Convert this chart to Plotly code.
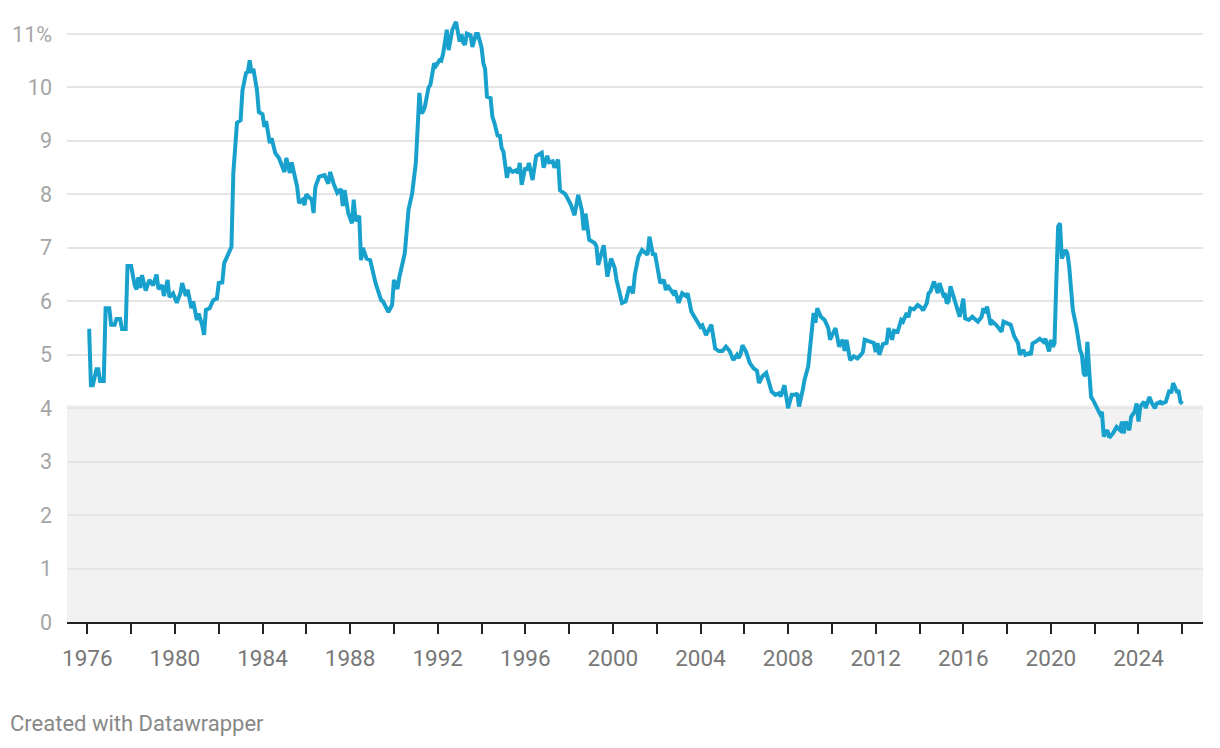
import plotly.graph_objects as go

# Monthly readings (date, percent)
dates = [
    "1976-01", "1976-02", "1976-03", "1976-04", "1976-06", "1976-07", "1976-08", "1976-10",
    "1976-11", "1977-01", "1977-02", "1977-04", "1977-05", "1977-07", "1977-08", "1977-10",
    "1977-11", "1978-01", "1978-03", "1978-04", "1978-05", "1978-06", "1978-07", "1978-09",
    "1978-11", "1979-01", "1979-03", "1979-04", "1979-06", "1979-07", "1979-09", "1979-10",
    "1979-12", "1980-02", "1980-04", "1980-05", "1980-07", "1980-08", "1980-10", "1980-11",
    "1981-01", "1981-02", "1981-04", "1981-05", "1981-06", "1981-08", "1981-10", "1981-12",
    "1982-01", "1982-03", "1982-04", "1982-06", "1982-08", "1982-09", "1982-11", "1983-01",
    "1983-02", "1983-04", "1983-05", "1983-06", "1983-07", "1983-08", "1983-10", "1983-11",
    "1984-01", "1984-02", "1984-03", "1984-05", "1984-06", "1984-08", "1984-10", "1985-01",
    "1985-02", "1985-04", "1985-05", "1985-08", "1985-09", "1985-11", "1985-12", "1986-01",
    "1986-04", "1986-05", "1986-06", "1986-08", "1986-11", "1987-01", "1987-02", "1987-04",
    "1987-06", "1987-08", "1987-09", "1987-10", "1987-12", "1988-02", "1988-03", "1988-04",
    "1988-06", "1988-07", "1988-08", "1988-10", "1988-12", "1989-03", "1989-06", "1989-07",
    "1989-08", "1989-10", "1989-12", "1990-01", "1990-03", "1990-04", "1990-07", "1990-09",
    "1990-11", "1991-01", "1991-02", "1991-03", "1991-04", "1991-05", "1991-06", "1991-08",
    "1991-09", "1991-11", "1991-12", "1992-02", "1992-03", "1992-04", "1992-06", "1992-07",
    "1992-09", "1992-10", "1992-11", "1993-01", "1993-02", "1993-03", "1993-04", "1993-05",
    "1993-07", "1993-08", "1993-10", "1993-11", "1994-01", "1994-02", "1994-03", "1994-04",
    "1994-06", "1994-07", "1994-08", "1994-10", "1994-11", "1994-12", "1995-01", "1995-03",
    "1995-04", "1995-06", "1995-08", "1995-09", "1995-10", "1995-11", "1996-01", "1996-02",
    "1996-03", "1996-05", "1996-07", "1996-10", "1996-11", "1997-01", "1997-02", "1997-04",
    "1997-05", "1997-07", "1997-08", "1997-11", "1998-01", "1998-02", "1998-04", "1998-05",
    "1998-06", "1998-08", "1998-09", "1998-10", "1998-12", "1999-03", "1999-04", "1999-05",
    "1999-08", "1999-10", "1999-12", "2000-02", "2000-03", "2000-06", "2000-08", "2000-10",
    "2000-12", "2001-01", "2001-03", "2001-05", "2001-08", "2001-09", "2001-11", "2001-12",
    "2002-02", "2002-03", "2002-05", "2002-06", "2002-07", "2002-10", "2002-11", "2003-01",
    "2003-03", "2003-05", "2003-06", "2003-08", "2003-09", "2003-11", "2004-01", "2004-02",
    "2004-04", "2004-07", "2004-09", "2004-11", "2005-01", "2005-03", "2005-05", "2005-07",
    "2005-09", "2005-10", "2005-11", "2005-12", "2006-02", "2006-04", "2006-06", "2006-08",
    "2006-09", "2006-11", "2007-01", "2007-02", "2007-04", "2007-06", "2007-08", "2007-09",
    "2007-11", "2007-12", "2008-01", "2008-03", "2008-05", "2008-06", "2008-07", "2008-09",
    "2008-10", "2008-12", "2009-01", "2009-02", "2009-03", "2009-04", "2009-05", "2009-07",
    "2009-09", "2009-11", "2009-12", "2010-03", "2010-05", "2010-07", "2010-08", "2010-09",
    "2010-11", "2011-01", "2011-03", "2011-05", "2011-06", "2011-07", "2011-09", "2011-12",
    "2012-01", "2012-02", "2012-03", "2012-05", "2012-07", "2012-08", "2012-10", "2012-11",
    "2013-01", "2013-03", "2013-04", "2013-06", "2013-07", "2013-08", "2013-10", "2013-12",
    "2014-02", "2014-03", "2014-05", "2014-06", "2014-07", "2014-09", "2014-11", "2014-12",
    "2015-02", "2015-03", "2015-04", "2015-05", "2015-06", "2015-08", "2015-10", "2015-11",
    "2016-01", "2016-02", "2016-04", "2016-06", "2016-07", "2016-09", "2016-11", "2016-12",
    "2017-01", "2017-02", "2017-04", "2017-05", "2017-07", "2017-10", "2017-11", "2018-01",
    "2018-03", "2018-05", "2018-07", "2018-08", "2018-10", "2018-11", "2019-01", "2019-02",
    "2019-03", "2019-05", "2019-07", "2019-09", "2019-10", "2019-12", "2020-01", "2020-02",
    "2020-03", "2020-04", "2020-05", "2020-06", "2020-07", "2020-09", "2020-10", "2020-11",
    "2020-12", "2021-01", "2021-03", "2021-05", "2021-06", "2021-07", "2021-08", "2021-09",
    "2021-10", "2021-11", "2021-12", "2022-02", "2022-04", "2022-05", "2022-06", "2022-08",
    "2022-09", "2022-11", "2022-12", "2023-01", "2023-03", "2023-04", "2023-05", "2023-06",
    "2023-08", "2023-09", "2023-11", "2023-12", "2024-01", "2024-02", "2024-04", "2024-05",
    "2024-07", "2024-08", "2024-10", "2024-11", "2025-01", "2025-02", "2025-04", "2025-06",
    "2025-07", "2025-08", "2025-10", "2025-11", "2025-12", "2026-01",
]

rates = [
    5.45, 5.45, 4.43, 4.43, 4.73, 4.73, 4.51, 4.51,
    5.87, 5.87, 5.56, 5.56, 5.67, 5.67, 5.48, 5.48,
    6.66, 6.66, 6.30, 6.22, 6.45, 6.25, 6.49, 6.20,
    6.40, 6.30, 6.50, 6.23, 6.30, 6.10, 6.40, 6.08,
    6.15, 5.97, 6.15, 6.34, 6.10, 6.22, 5.87, 6.00,
    5.65, 5.77, 5.55, 5.37, 5.84, 5.87, 6.02, 6.05,
    6.34, 6.35, 6.71, 6.87, 7.02, 8.40, 9.34, 9.39,
    9.95, 10.27, 10.29, 10.51, 10.27, 10.35, 9.95, 9.54,
    9.50, 9.26, 9.37, 8.96, 9.05, 8.77, 8.68, 8.42,
    8.68, 8.40, 8.60, 8.14, 7.84, 7.90, 7.80, 8.00,
    7.90, 7.65, 8.14, 8.33, 8.36, 8.20, 8.42, 8.20,
    8.03, 8.10, 7.78, 8.08, 7.65, 7.46, 7.90, 7.50,
    7.60, 6.77, 7.00, 6.80, 6.77, 6.34, 6.02, 6.00,
    5.93, 5.80, 5.93, 6.40, 6.23, 6.45, 6.90, 7.71,
    8.02, 8.59, 9.26, 9.90, 9.52, 9.55, 9.64, 10.00,
    10.05, 10.45, 10.40, 10.51, 10.50, 10.64, 11.08, 10.70,
    11.08, 11.15, 11.23, 10.86, 11.00, 10.84, 10.80, 11.01,
    10.98, 10.76, 11.00, 11.00, 10.75, 10.45, 10.35, 9.83,
    9.80, 9.45, 9.35, 9.08, 9.12, 8.87, 8.80, 8.31,
    8.50, 8.42, 8.45, 8.40, 8.59, 8.18, 8.50, 8.45,
    8.59, 8.27, 8.72, 8.78, 8.50, 8.72, 8.60, 8.62,
    8.50, 8.65, 8.08, 8.00, 7.86, 7.80, 7.61, 7.80,
    7.99, 7.70, 7.33, 7.64, 7.15, 7.09, 7.03, 6.68,
    7.05, 6.46, 6.80, 6.62, 6.40, 5.97, 6.00, 6.27,
    6.15, 6.50, 6.83, 6.96, 6.87, 7.21, 6.86, 6.90,
    6.52, 6.34, 6.40, 6.21, 6.30, 6.15, 6.20, 5.97,
    6.15, 6.10, 6.15, 5.81, 5.75, 5.65, 5.52, 5.55,
    5.37, 5.56, 5.12, 5.07, 5.07, 5.15, 5.07, 4.90,
    5.00, 4.94, 5.02, 5.18, 5.05, 4.85, 4.75, 4.70,
    4.47, 4.60, 4.66, 4.54, 4.31, 4.25, 4.28, 4.22,
    4.43, 4.22, 4.00, 4.25, 4.25, 4.28, 4.03, 4.34,
    4.53, 4.78, 5.15, 5.59, 5.78, 5.60, 5.87, 5.71,
    5.65, 5.50, 5.28, 5.50, 5.15, 5.28, 5.07, 5.28,
    4.90, 4.97, 4.93, 5.00, 5.05, 5.28, 5.25, 5.22,
    5.05, 5.22, 5.00, 5.20, 5.22, 5.50, 5.28, 5.45,
    5.43, 5.65, 5.62, 5.78, 5.70, 5.87, 5.85, 5.93,
    5.88, 5.83, 5.96, 6.15, 6.18, 6.37, 6.15, 6.34,
    6.12, 6.15, 5.96, 6.00, 6.28, 6.05, 5.87, 5.71,
    6.05, 5.68, 5.65, 5.71, 5.68, 5.62, 5.71, 5.87,
    5.78, 5.90, 5.56, 5.62, 5.56, 5.43, 5.62, 5.58,
    5.56, 5.34, 5.22, 5.00, 5.09, 5.00, 5.03, 5.00,
    5.21, 5.25, 5.30, 5.24, 5.30, 5.06, 5.28, 5.15,
    5.21, 6.40, 7.40, 7.46, 6.80, 6.96, 6.90, 6.65,
    6.27, 5.84, 5.52, 5.09, 5.00, 4.65, 4.60, 5.24,
    4.71, 4.21, 4.16, 4.00, 3.89, 3.93, 3.47, 3.59,
    3.45, 3.53, 3.59, 3.65, 3.59, 3.75, 3.53, 3.75,
    3.59, 3.84, 3.94, 4.09, 3.75, 4.03, 4.12, 4.00,
    4.21, 4.12, 4.00, 4.09, 4.12, 4.09, 4.12, 4.34,
    4.28, 4.47, 4.31, 4.31, 4.12, 4.08,
]

shade_top = 4.06  # shaded band from 0 up to this level

y_tickvals = list(range(0, 12))
y_ticktext = [str(v) for v in range(0, 11)] + ["11%"]

x_tick_years = list(range(1976, 2027, 2))
x_tickvals = [f"{y}-01-01" for y in x_tick_years]
x_ticktext = [str(y) if (y - 1976) % 4 == 0 else "" for y in x_tick_years]

fig = go.Figure()
fig.add_trace(go.Scatter(
    x=dates, y=rates, mode="lines",
    line=dict(color="#18a1cd", width=4),
    hoverinfo="skip", showlegend=False,
))

fig.add_shape(type="rect", xref="paper", yref="y", x0=0, x1=1, y0=0, y1=shade_top,
              fillcolor="#f2f2f2", line=dict(width=0), layer="below")

# page body has an 8px margin, so the figure is 8px smaller than the window
fig.update_layout(
    width=1212, height=740,
    margin=dict(l=59, r=17, t=10, b=126),
    paper_bgcolor="white", plot_bgcolor="white",
    font=dict(family="Roboto", color="#999999"),
    xaxis=dict(
        type="date", range=["1975-01-27", "2026-12-12"],
        tickvals=x_tickvals, ticktext=x_ticktext,
        showgrid=False, zeroline=False, automargin=False,
        showline=True, linecolor="#222222", linewidth=2,
        ticks="outside", ticklen=10, tickwidth=2, tickcolor="#222222",
        tickfont=dict(size=22.5, color="#777777", family="Roboto"),
        ticklabelstandoff=5,
    ),
    yaxis=dict(
        range=[0, 11.3], tickvals=y_tickvals, ticktext=y_ticktext,
        showgrid=True, gridcolor="#e5e5e5", gridwidth=1.6,
        zeroline=False, showline=False, ticks="", automargin=False,
        tickfont=dict(size=21.5, color="#a6a6a6", family="Roboto"),
        ticklabelstandoff=14,
    ),
    annotations=[dict(
        text="Created with Datawrapper", xref="paper", yref="paper",
        x=-0.0519, y=-0.1677, xanchor="left", yanchor="middle", showarrow=False,
        font=dict(size=22, color="#888888", family="Roboto"),
    )],
)

fig.write_html("out.html")
